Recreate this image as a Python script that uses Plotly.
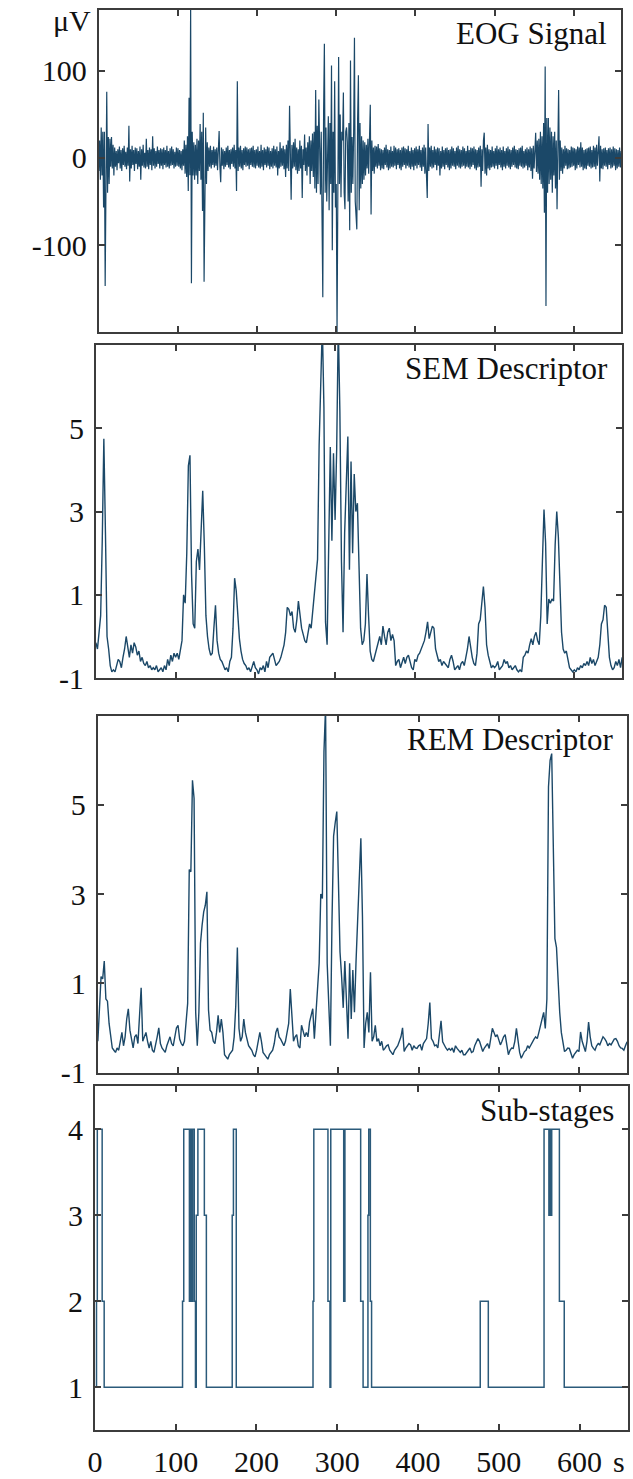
import numpy as np
import plotly.graph_objects as go

# ---------------- data ----------------
# EOG signal, 1 sample per second (µV), t = 0..660 s
eog_uv = [
    -15, 20, -25, 35, -20, 30, -57, 30, -147, 25, 76, -40, 24, -30, 22, -10, 24, -12, 15, -20,
    12, -10, 8, -14, 10, -6, 13, -12, 9, -15, 11, -8, 14, -10, 7, -13, 12, -9, 37, -27,
    10, -12, 14, -8, 9, -15, 12, -7, 11, -13, 8, -10, 13, -25, 10, -9, 15, -11, 6, -12,
    22, -10, 9, -13, 12, -8, 10, -14, 25, -9, 11, -12, 8, -10, 13, -7, 9, -12, 11, -9,
    10, -13, 12, -8, 9, -11, 14, -10, 8, -12, 11, -9, 13, -8, 10, -12, 7, -10, 12, -9,
    11, -10, 9, -12, 8, -14, 10, -9, 20, -18, 15, -22, 25, -38, 69, -20, 175, -144, 30, -20,
    18, -25, 15, -20, 22, -30, 20, -15, 39, -25, 30, -61, 52, -142, 20, 35, -30, 18, -15, 12,
    -10, 14, -12, 9, -8, 13, -11, 10, -9, 12, -14, 8, 31, -10, -28, 12, -9, 10, -13, 8,
    -10, 12, -8, 14, -11, 9, -13, 10, -7, 12, -10, 15, -12, 9, -38, 88, -15, 12, -10, 14,
    -12, 9, -14, 11, -8, 13, -10, 12, -9, 10, -13, 11, -8, 12, -10, 14, -11, 9, -12, 10,
    -9, 13, -11, 8, -12, 15, -10, 9, -14, 12, -8, 10, -11, 13, -9, 12, -13, 8, -10, 11,
    -12, 14, -9, 10, -11, 13, -20, 8, -12, 18, -10, 11, -9, 14, -13, 10, -22, 15, -12, 20,
    -15, 60, -20, -48, 15, -12, 18, -10, 22, -14, 12, -18, 10, -15, 20, -12, 14, -46, 10, -8,
    27, -15, 12, -20, 18, -10, 25, -30, 20, -15, 28, -22, 30, -35, 78, -40, 37, -30, 67, -25,
    -42, 30, -45, -160, 50, 131, -40, 35, -50, 25, 48, -60, 40, -30, 106, -106, 30, -40, 88, -57,
    -30, -200, 40, 116, -30, 50, -45, 30, 20, 75, -40, -59, 30, 35, 18, -50, 40, -83, 112, -40,
    24, -30, 30, 138, -50, -68, -82, 45, 95, -60, 40, -35, 25, -30, 20, -25, 18, -20, 15, -12,
    22, -18, 15, 61, -65, 20, -15, 12, -18, 14, -10, 13, -12, 16, -9, 11, -14, 10, -12, 9,
    -13, 12, -8, 15, -11, 10, -14, 9, -12, 13, -10, 8, -11, 14, -9, 12, -13, 10, -8, 11,
    -12, 9, -14, 12, -10, 13, -8, 11, -12, 10, -9, 14, -11, 8, -13, 12, -10, 9, -14, 11,
    -9, 13, -12, 10, -8, 14, -11, 9, -15, 12, -10, 15, -18, 12, -20, -46, 39, -15, 12, -10,
    14, -12, 9, -11, 13, -8, 10, -14, 12, -9, 11, -20, 8, -12, 13, -10, 9, -13, 11, -8,
    12, -11, 9, -14, 10, -12, 13, -9, 11, -10, 8, -13, 12, -9, 14, -11, 10, -12, 9, -10,
    13, -9, 11, -12, 8, -10, 14, -11, 9, -13, 12, -10, 11, -8, 13, -12, 10, -14, 9, -11,
    12, -10, 14, -33, 10, -15, 20, 29, -18, 12, -20, 15, -12, 10, -14, 9, -11, 13, -10, 8,
    -12, 11, -9, 14, -13, 10, -8, 12, -11, 9, -14, 13, -10, 8, -12, 11, -9, 13, -11, 10,
    -13, 9, -10, 12, -8, 14, -11, 10, -12, 9, -13, 11, -9, 12, -10, 14, -12, 8, -11, 10,
    -9, 12, -14, 10, -11, 13, -15, 11, -24, 14, -12, 18, 29, -16, 20, -18, 22, -25, 30, -30,
    25, -35, 40, -63, 105, -170, 46, -40, 46, -30, 35, -25, 30, -40, 25, -20, 30, -35, 20, -59,
    30, 78, -25, 20, -15, 12, -18, 10, -12, 14, -9, 11, -13, 10, -12, 9, -11, 13, -10, 12,
    -9, 11, -14, 10, -12, 13, -8, 12, -11, 18, -10, 12, -14, 9, -12, 10, -13, 11, -9, 12,
    -10, 13, -12, 9, -11, 14, -10, 12, -13, 15, -9, 12, 25, -27, 14, -12, 10, -13, 11, -9,
    12, -10, 9, -13, 11, -8, 12, -12, 10, -11, 13, -9, 11, -14, 10, -12, 9, -10, 12, -11,
    8,
]

# SEM descriptor, 1 value every 2 s
sem_values = [
    -0.15, -0.3, 0.1, 0.5, 2.3, 4.75, 2.5, 0.0, -0.3, -0.7,
    -0.85, -0.8, -0.85, -0.7, -0.55, -0.6, -0.75, -0.5, -0.3, 0.0,
    -0.3, -0.5, -0.2, -0.4, -0.15, -0.25, -0.45, -0.35, -0.6, -0.5,
    -0.65, -0.7, -0.6, -0.75, -0.7, -0.8, -0.75, -0.8, -0.7, -0.85,
    -0.8, -0.75, -0.85, -0.7, -0.8, -0.55, -0.7, -0.45, -0.6, -0.4,
    -0.5, -0.4, -0.55, -0.3, -0.1, 1.0, 0.8, 2.0, 4.1, 4.35,
    1.5, 0.3, 0.2, 1.8, 2.1, 1.6, 2.4, 3.5, 2.2, 0.5,
    0.0, -0.3, -0.45, -0.4, 0.2, 0.75, -0.1, -0.4, -0.55, -0.6,
    -0.7, -0.8, -0.75, -0.85, -0.6, -0.5, 0.2, 1.4, 1.1, 0.4,
    -0.05, -0.35, -0.55, -0.65, -0.7, -0.8, -0.75, -0.85, -0.7, -0.6,
    -0.75, -0.8, -0.9, -0.75, -0.8, -0.7, -0.85, -0.6, -0.75, -0.5,
    -0.45, -0.4, -0.55, -0.7, -0.65, -0.6, -0.5, -0.35, -0.2, 0.1,
    0.7, 0.65, 0.5, 0.6, 0.2, 0.1, 0.4, 0.85, 0.5, 0.2,
    0.05, -0.1, -0.15, 0.1, 0.3, 0.2, 0.6, 1.0, 1.4, 1.85,
    4.6, 6.8, 7.5, 5.5, 0.35, -0.2, 2.0, 4.55, 2.3, 4.4,
    2.8, 4.5, 7.5, 5.4, 1.8, 0.1, 2.5, 3.75, 4.8, 1.6,
    4.2, 2.0, 3.9, 3.0, 3.2, 1.7, 0.2, -0.2, -0.1, 0.3,
    1.5, 0.5, -0.35, -0.55, -0.6, -0.45, -0.3, -0.1, 0.0, -0.2,
    0.25, 0.0, -0.2, 0.1, 0.2, -0.1, 0.05, -0.1, -0.7, -0.6,
    -0.55, -0.75, -0.6, -0.5, -0.65, -0.5, -0.45, -0.6, -0.75, -0.8,
    -0.55, -0.6, -0.45, -0.4, -0.3, -0.2, -0.1, 0.1, 0.35, -0.05,
    0.1, 0.25, 0.2, -0.3, -0.45, -0.6, -0.55, -0.7, -0.6, -0.65,
    -0.7, -0.75, -0.55, -0.45, -0.6, -0.8, -0.75, -0.7, -0.8, -0.65,
    -0.6, -0.7, -0.5, -0.3, 0.0, -0.3, -0.5, -0.65, -0.7, -0.4,
    0.3, 0.4, 0.8, 1.2, 0.7, -0.2, -0.45, -0.6, -0.75, -0.7,
    -0.75, -0.7, -0.6, -0.8, -0.75, -0.7, -0.55, -0.65, -0.6, -0.75,
    -0.7, -0.8, -0.75, -0.7, -0.8, -0.85, -0.8, -0.85, -0.5, -0.45,
    -0.35, -0.4, -0.2, -0.05, -0.2, 0.0, 0.1, -0.1, -0.2, 0.5,
    1.8, 3.05, 2.25, 0.3, 0.9, 0.8, 0.9, 0.85, 2.2, 3.0,
    2.4, 1.0, 0.1, -0.3, -0.4, -0.35, -0.6, -0.75, -0.8, -0.85,
    -0.8, -0.85, -0.75, -0.8, -0.7, -0.75, -0.65, -0.7, -0.6, -0.7,
    -0.5, -0.65, -0.55, -0.7, -0.6, -0.5, -0.2, 0.3, 0.4, 0.75,
    0.7, 0.2, -0.5, -0.7, -0.8, -0.75, -0.6, -0.7, -0.55, -0.75,
    -0.5,
]

# REM descriptor, 1 value every 2 s
rem_values = [
    -0.3, 0.3, 1.15, 1.1, 1.5, 0.65, 0.6, 0.1, -0.2, -0.45,
    -0.5, -0.55, -0.45, -0.5, -0.3, -0.1, -0.4, -0.2, 0.2, 0.43,
    -0.05, -0.3, -0.45, -0.2, -0.15, -0.35, 0.3, 0.9, -0.3, -0.2,
    -0.1, -0.3, -0.45, -0.3, -0.5, -0.55, -0.4, -0.2, 0.0, -0.35,
    -0.45, -0.5, -0.55, -0.4, -0.3, -0.2, -0.35, -0.4, -0.2, 0.0,
    0.06, -0.25, -0.35, -0.4, -0.3, 0.2, 0.55, 3.55, 3.5, 5.55,
    5.15, 0.35, -0.4, 0.35, 1.9, 2.3, 2.6, 2.75, 3.05, 0.4,
    -0.05, -0.1, -0.3, -0.35, -0.1, 0.28, -0.1, 0.2, -0.1, -0.6,
    -0.65, -0.7, -0.6, -0.55, -0.5, -0.2, 0.5, 1.8, -0.01, -0.3,
    -0.2, 0.2, -0.1, -0.25, -0.4, -0.45, -0.5, -0.6, -0.65, -0.5,
    -0.3, -0.1, -0.3, -0.55, -0.6, -0.65, -0.7, -0.6, -0.55, -0.5,
    -0.35, -0.1, 0.0, -0.2, -0.25, -0.35, -0.4, -0.3, -0.1, 0.1,
    0.87, 0.35, -0.3, -0.2, -0.15, -0.4, -0.45, 0.06, -0.1, -0.2,
    -0.1, -0.2, 0.13, 0.3, 0.43, -0.24, 0.4, 0.87, 1.45, 3.0,
    2.9, 6.2, 7.2, 1.45, 0.35, -0.4, 2.4, 4.3, 4.6, 4.85,
    3.3, 1.7, 1.15, 0.45, 1.5, 0.6, -0.24, 1.45, 0.2, 1.3,
    0.35, 1.5, 2.55, 3.35, 4.25, 2.5, -0.45, 0.1, 0.35, -0.1,
    1.25, -0.3, -0.2, 0.06, -0.3, -0.24, -0.4, -0.3, -0.5, -0.46,
    -0.4, -0.38, -0.5, -0.55, -0.6, -0.5, -0.46, -0.4, -0.3, -0.2,
    0.0, -0.53, -0.45, -0.4, -0.35, -0.38, -0.5, -0.4, -0.45, -0.46,
    -0.4, -0.38, -0.5, -0.35, -0.3, -0.24, 0.1, 0.57, -0.24, -0.3,
    -0.4, -0.38, -0.45, -0.1, 0.16, -0.31, -0.4, -0.45, -0.5, -0.46,
    -0.5, -0.45, -0.55, -0.4, -0.46, -0.5, -0.55, -0.5, -0.6, -0.6,
    -0.55, -0.5, -0.45, -0.55, -0.53, -0.4, -0.3, -0.24, -0.3, -0.45,
    -0.53, -0.45, -0.4, -0.35, -0.46, -0.2, -0.01, -0.1, -0.2, -0.15,
    -0.3, -0.38, -0.3, -0.2, -0.15, -0.4, -0.6, -0.5, -0.45, -0.46,
    -0.3, -0.01, -0.3, -0.55, -0.68, -0.6, -0.53, -0.5, -0.4, -0.45,
    -0.38, -0.3, -0.25, -0.2, -0.24, -0.1, 0.06, 0.25, 0.35, -0.01,
    0.65, 5.4, 6.0, 6.15, 3.95, 2.0, 1.8, 1.0, 0.35, -0.1,
    -0.3, -0.53, -0.5, -0.45, -0.46, -0.55, -0.68, -0.6, -0.55, -0.5,
    -0.53, -0.09, -0.3, -0.45, -0.53, -0.3, 0.13, -0.2, -0.4, -0.46,
    -0.5, -0.4, -0.35, -0.38, -0.3, -0.2, -0.24, -0.3, -0.4, -0.35,
    -0.38, -0.3, -0.25, -0.24, -0.3, -0.4, -0.45, -0.46, -0.5, -0.4,
    -0.31,
]

# Sub-stages: change times (s) and level from that time on
stage_times = [0, 2, 3, 9, 11.5, 108.5, 110, 117, 118, 119.5, 121, 123, 124.5, 125.5,
               127.5, 135.5, 138, 170, 171.5, 175, 270, 271, 288.5, 291, 292, 308, 309.5,
               329, 332, 338, 339, 341, 342.5, 477, 487, 556, 562, 563, 564, 565.5, 575,
               581, 660]
stage_levels = [1, 2, 4, 2, 1, 2, 4, 2, 4, 2, 4, 2, 1, 3, 4, 3, 1, 3, 4, 1, 2, 4, 2, 1,
                4, 2, 4, 2, 1, 3, 4, 2, 1, 2, 1, 4, 3, 4, 3, 4, 2, 1, 1]

panel_titles = ["EOG Signal", "SEM Descriptor", "REM Descriptor", "Sub-stages"]
x_ticks = [0, 100, 200, 300, 400, 500, 600]
x_ticktext = ["0", "100", "200", "300", "400", "500", "600"]
eog_ticks = [-100, 0, 100]
eog_ticktext = ["-100", "0", "100"]
desc_ticks = [-1, 1, 3, 5]
desc_ticktext = ["-1", "1", "3", "5"]
stage_ticks = [1, 2, 3, 4]
stage_ticktext = ["1", "2", "3", "4"]

# ---------------- figure ----------------
W, H = 633, 1479
LINE = "#1b4868"
FRAME = "#3c3c3c"
FONT = "Liberation Serif"
TICKFONT = dict(family=FONT, size=30, color="#111111")

t_eog = np.arange(len(eog_uv)) * 1.0
t_desc = np.arange(len(sem_values)) * 2.0
t_rem = np.arange(len(rem_values)) * 2.0

fig = go.Figure()
fig.add_trace(go.Scatter(x=t_eog, y=eog_uv, mode="lines", xaxis="x", yaxis="y",
                         line=dict(color=LINE, width=1.2)))
fig.add_trace(go.Scatter(x=t_desc, y=sem_values, mode="lines", xaxis="x2", yaxis="y2",
                         line=dict(color=LINE, width=1.4)))
fig.add_trace(go.Scatter(x=t_rem, y=rem_values, mode="lines", xaxis="x3", yaxis="y3",
                         line=dict(color=LINE, width=1.4)))
fig.add_trace(go.Scatter(x=stage_times, y=stage_levels, mode="lines", xaxis="x4", yaxis="y4",
                         line=dict(color="#2b5a7a", width=1.5, shape="hv")))

# panel boxes in pixels: (left, right, top, bottom)
boxes = [(92, 621, 10, 336), (89, 622, 349, 686), (91, 627, 724, 1085), (88, 628, 1099, 1447)]
yranges = [[-200, 170], [-1, 7], [-1, 7], [0.5, 4.5]]
yticks = [(eog_ticks, eog_ticktext), (desc_ticks, desc_ticktext),
          (desc_ticks, desc_ticktext), (stage_ticks, stage_ticktext)]

layout = dict(width=W, height=H, margin=dict(l=0, r=0, t=0, b=0),
              paper_bgcolor="white", plot_bgcolor="white", showlegend=False)
annotations = []
for i, ((l, r, t, b), yr, (yv, yt)) in enumerate(zip(boxes, yranges, yticks)):
    sfx = "" if i == 0 else str(i + 1)
    layout["xaxis" + sfx] = dict(
        domain=[l / W, r / W], range=[0, 660], anchor="y" + sfx,
        tickvals=x_ticks, ticktext=x_ticktext, showticklabels=(i == 3),
        ticks="inside", ticklen=6, tickwidth=1.5, tickcolor=FRAME, showline=True,
        linecolor=FRAME, linewidth=2, mirror="ticks", showgrid=False, zeroline=False,
        tickfont=TICKFONT, ticklabelstandoff=4)
    layout["yaxis" + sfx] = dict(
        domain=[1 - b / H, 1 - t / H], range=yr, anchor="x" + sfx,
        tickvals=yv, ticktext=yt, ticks="inside", ticklen=6, tickwidth=1.5,
        tickcolor=FRAME, showline=True, linecolor=FRAME, linewidth=2, mirror="ticks",
        showgrid=False, zeroline=False, tickfont=TICKFONT, ticklabelstandoff=4)
    annotations.append(dict(text=panel_titles[i], xref="paper", yref="paper",
                            x=(r - 12) / W, y=1 - (t + 24) / H, xanchor="right",
                            yanchor="middle", showarrow=False,
                            font=dict(family=FONT, size=31, color="#111111")))

annotations.append(dict(text="μV", xref="paper", yref="paper", x=86 / W, y=1 - 21 / H,
                        xanchor="right", yanchor="middle", showarrow=False,
                        font=dict(family=FONT, size=30, color="#111111")))
annotations.append(dict(text="s", xref="paper", yref="paper", x=627 / W, y=1 - 1462 / H,
                        xanchor="right", yanchor="middle", yshift=-16, showarrow=False,
                        font=dict(family=FONT, size=30, color="#111111")))
layout["annotations"] = annotations
fig.update_layout(**layout)

fig.write_html(
    "out.html",
    config={"displayModeBar": False},
    post_script="document.body.style.margin='0';"
                "document.documentElement.style.overflow='hidden';"
                "document.body.style.overflow='hidden';",
)
